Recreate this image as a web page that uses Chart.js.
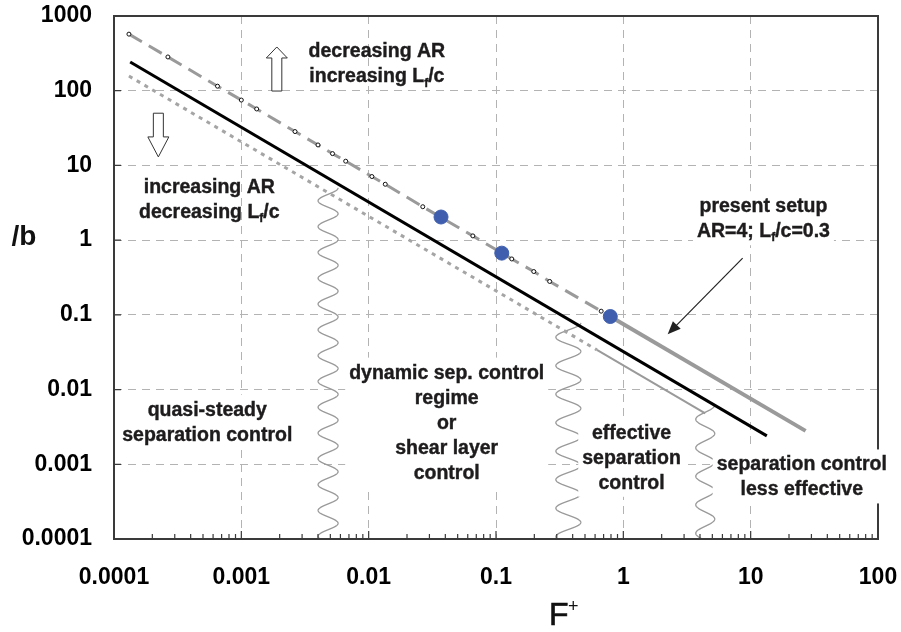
<!DOCTYPE html>
<html>
<head>
<meta charset="utf-8">
<script src="https://cdn.jsdelivr.net/npm/chart.js@4.4.0/dist/chart.umd.min.js"></script>
<style>
  html, body { margin: 0; padding: 0; background: #fff; }
  canvas { display: block; }
</style>
</head>
<body>
<canvas id="sepChart" width="901" height="632"></canvas>
<script>
// values
const xTickValues = [0.0001, 0.001, 0.01, 0.1, 1, 10, 100];
const xTickLabels = ['0.0001', '0.001', '0.01', '0.1', '1', '10', '100'];
const yTickValues = [0.0001, 0.001, 0.01, 0.1, 1, 10, 100, 1000];
const yTickLabels = ['0.0001', '0.001', '0.01', '0.1', '1', '10', '100', '1000'];

// upper dashed curve with its small markers
const dashedX = [0.000131, 0.000265, 0.00065, 0.001, 0.00132, 0.00264, 0.004, 0.0052, 0.0066, 0.0106, 0.0135, 0.0266, 0.0658, 0.133, 0.198, 0.264, 0.67, 0.79];
const dashedY = [572, 283, 115, 75, 57, 28.4, 18.8, 14.4, 11.4, 7.1, 5.6, 2.8, 1.14, 0.56, 0.38, 0.28, 0.112, 0.095];
// its solid continuation at higher F+
const upperX = [0.79, 27];
const upperY = [0.095, 0.0028];
// middle black line
const middleX = [0.000134, 13.4];
const middleY = [242, 0.0024];
// lower dotted curve and its solid end
const dottedX = [0.000131, 0.62];
const dottedY = [157, 0.034];
const lowerX = [0.62, 4.4];
const lowerY = [0.034, 0.0048];
// present setup points
const setupX = [0.037, 0.111, 0.79];
const setupY = [2.04, 0.67, 0.095];
// regime boundaries (wavy lines): F+ position and upper end
const boundaryX = [0.0048, 0.37, 4.4];
const boundaryTopY = [5.0, 0.078, 0.0062];

// annotations, anchored in data space
const notes = [
    { x: 0.0116, y: 330, lines: ['decreasing AR', 'increasing L{f}/c'], box: false },
    { x: 0.00056, y: 5.1, lines: ['increasing AR', 'decreasing L{f}/c'], box: false },
    { x: 12.6, y: 2.8, lines: ['present setup', 'AR=4; L{f}/c=0.3'], box: true },
    { x: 0.00054, y: 0.0053, lines: ['quasi-steady', 'separation control'], box: true },
    { x: 0.041, y: 0.0166, lines: ['dynamic sep. control', 'regime', 'or', 'shear layer', 'control'], box: true },
    { x: 1.16, y: 0.0026, lines: ['effective', 'separation', 'control'], box: true },
    { x: 25.2, y: 0.00098, lines: ['separation control', 'less effective'], box: true }
];
const blockArrows = [
    { x: 0.0019, from: 99, to: 385, head: 11 },
    { x: 0.000223, from: 50, to: 13, head: 20 }
];
const pointer = { fromX: 8.65, fromY: 0.575, toX: 2.23, toY: 0.055 };

const FONT = "'Liberation Sans', Arial, sans-serif";
const waveAmp = [10, 12.5, 9.5];
const wavePeriod = [25.8, 28.5, 28.5];

const pts = (xs, ys) => xs.map((x, i) => ({ x: x, y: ys[i] }));

function splitRich(line) {
    return line.split(/(\{[^}]*\})/).filter(Boolean).map(p =>
        p[0] === '{' ? { t: p.slice(1, -1), sub: true } : { t: p, sub: false });
}

function richWidth(ctx, line, size) {
    let w = 0;
    splitRich(line).forEach(p => {
        ctx.font = `bold ${p.sub ? Math.round(size * 0.62) : size}px ${FONT}`;
        w += ctx.measureText(p.t).width;
    });
    return w;
}

function drawRich(ctx, line, cx, cy, size) {
    let px = cx - richWidth(ctx, line, size) / 2;
    ctx.textAlign = 'left';
    ctx.textBaseline = 'middle';
    splitRich(line).forEach(p => {
        ctx.font = `bold ${p.sub ? Math.round(size * 0.62) : size}px ${FONT}`;
        const py = cy + (p.sub ? size * 0.32 : 0);
        ctx.fillText(p.t, px, py);
        ctx.strokeText(p.t, px, py);
        px += ctx.measureText(p.t).width;
    });
}

const decor = {
    id: 'decor',
    beforeDatasetsDraw(chart) {
        const { ctx, chartArea: a, scales: { x, y } } = chart;
        ctx.save();
        ctx.strokeStyle = '#9a9a9a';
        ctx.lineWidth = 1.3;
        boundaryX.forEach((bx, i) => {
            const cx = x.getPixelForValue(bx);
            const top = y.getPixelForValue(boundaryTopY[i]);
            ctx.beginPath();
            for (let py = top; py <= a.bottom; py += 0.5) {
                const px = cx + waveAmp[i] * Math.cos(2 * Math.PI * (py - top) / wavePeriod[i]);
                if (py === top) ctx.moveTo(px, py); else ctx.lineTo(px, py);
            }
            ctx.stroke();
        });
        ctx.restore();
    },
    afterDraw(chart) {
        const { ctx, chartArea: a, scales: { x, y } } = chart;
        ctx.save();

        // frame and inner tick marks
        ctx.strokeStyle = '#3a3a3a';
        ctx.lineWidth = 2;
        ctx.strokeRect(a.left, a.top, a.right - a.left, a.bottom - a.top);
        ctx.lineWidth = 1.2;
        ctx.beginPath();
        xTickValues.forEach((v, i) => {
            const px = x.getPixelForValue(v);
            ctx.moveTo(px, a.bottom); ctx.lineTo(px, a.bottom - 8);
            if (i < xTickValues.length - 1) {
                for (let k = 2; k <= 9; k++) {
                    const mx = x.getPixelForValue(v * k);
                    ctx.moveTo(mx, a.bottom); ctx.lineTo(mx, a.bottom - 5);
                }
            }
        });
        yTickValues.forEach(v => {
            const py = y.getPixelForValue(v);
            ctx.moveTo(a.left, py); ctx.lineTo(a.left + 7, py);
        });
        ctx.stroke();

        // hollow block arrows
        ctx.fillStyle = '#fff';
        ctx.strokeStyle = '#333';
        ctx.lineWidth = 1;
        blockArrows.forEach(b => {
            const cx = x.getPixelForValue(b.x);
            const y0 = y.getPixelForValue(b.from);
            const y1 = y.getPixelForValue(b.to);
            const dir = y1 < y0 ? -1 : 1;
            const yh = y1 - dir * b.head;
            ctx.beginPath();
            ctx.moveTo(cx - 5, y0);
            ctx.lineTo(cx - 5, yh);
            ctx.lineTo(cx - 10.5, yh);
            ctx.lineTo(cx, y1);
            ctx.lineTo(cx + 10.5, yh);
            ctx.lineTo(cx + 5, yh);
            ctx.lineTo(cx + 5, y0);
            ctx.closePath();
            ctx.fill();
            ctx.stroke();
        });

        // pointer to the present setup line
        const p0x = x.getPixelForValue(pointer.fromX), p0y = y.getPixelForValue(pointer.fromY);
        const p1x = x.getPixelForValue(pointer.toX), p1y = y.getPixelForValue(pointer.toY);
        const ang = Math.atan2(p1y - p0y, p1x - p0x);
        ctx.strokeStyle = '#222';
        ctx.fillStyle = '#222';
        ctx.lineWidth = 1.2;
        ctx.beginPath();
        ctx.moveTo(p0x, p0y);
        ctx.lineTo(p1x - 10 * Math.cos(ang), p1y - 10 * Math.sin(ang));
        ctx.stroke();
        ctx.beginPath();
        ctx.moveTo(p1x, p1y);
        ctx.lineTo(p1x - 13 * Math.cos(ang) + 5.5 * Math.sin(ang), p1y - 13 * Math.sin(ang) - 5.5 * Math.cos(ang));
        ctx.lineTo(p1x - 13 * Math.cos(ang) - 5.5 * Math.sin(ang), p1y - 13 * Math.sin(ang) + 5.5 * Math.cos(ang));
        ctx.closePath();
        ctx.fill();

        // text annotations
        const size = 19.5, lh = 25;
        notes.forEach(n => {
            const cx = x.getPixelForValue(n.x);
            const cy = y.getPixelForValue(n.y);
            if (n.box) {
                const w = Math.max(...n.lines.map(l => richWidth(ctx, l, size)));
                ctx.fillStyle = '#fff';
                ctx.fillRect(cx - w / 2 - 4, cy - lh / 2 - 3, w + 8, lh * n.lines.length + 4);
            }
            ctx.fillStyle = '#1e1c1d';
            ctx.strokeStyle = '#1e1c1d';
            ctx.lineWidth = 0.4;
            n.lines.forEach((l, i) => drawRich(ctx, l, cx, cy + i * lh, size));
        });

        // axis titles
        ctx.fillStyle = '#111';
        ctx.textBaseline = 'middle';
        ctx.textAlign = 'center';
        ctx.font = `bold 28px ${FONT}`;
        ctx.fillText('/b', 24, y.getPixelForValue(1) - 3);
        ctx.textAlign = 'left';
        ctx.font = `32px 'Liberation Sans Narrow', ${FONT}`;
        ctx.fillText('F', 549, 616);
        ctx.strokeStyle = '#111';
        ctx.lineWidth = 0.6;
        ctx.strokeText('F', 549, 616);
        ctx.font = `18px ${FONT}`;
        ctx.fillText('+', 568, 607);
        ctx.restore();
    }
};

new Chart(document.getElementById('sepChart'), {
    type: 'scatter',
    data: {
        datasets: [
            {
                data: pts(setupX, setupY),
                backgroundColor: '#3f5fae',
                borderColor: '#3f5fae',
                pointRadius: 7,
                showLine: false
            },
            {
                data: pts(dashedX, dashedY),
                showLine: true,
                borderColor: '#9a9a9a',
                borderWidth: 3,
                borderDash: [15, 8],
                pointRadius: 2,
                pointBorderWidth: 1,
                pointBorderColor: '#111',
                pointBackgroundColor: '#fff'
            },
            {
                data: pts(upperX, upperY),
                showLine: true,
                borderColor: '#9a9a9a',
                borderWidth: 4,
                pointRadius: 0
            },
            {
                data: pts(middleX, middleY),
                showLine: true,
                borderColor: '#000',
                borderWidth: 3,
                pointRadius: 0
            },
            {
                data: pts(dottedX, dottedY),
                showLine: true,
                borderColor: '#a5a5a5',
                borderWidth: 3,
                borderDash: [4, 5],
                pointRadius: 0
            },
            {
                data: pts(lowerX, lowerY),
                showLine: true,
                borderColor: '#9a9a9a',
                borderWidth: 2,
                pointRadius: 0
            }
        ]
    },
    options: {
        responsive: false,
        animation: false,
        layout: { padding: { left: 0, right: 23, top: 16, bottom: 0 } },
        plugins: { legend: { display: false }, tooltip: { enabled: false } },
        scales: {
            x: {
                type: 'logarithmic',
                min: 0.0001,
                max: 100,
                afterBuildTicks: s => { s.ticks = xTickValues.map(v => ({ value: v })); },
                afterFit: s => { s.height = 93; s.paddingLeft = 0; s.paddingRight = 0; },
                grid: { color: '#b3b3b3', lineWidth: 1, drawTicks: false },
                border: { display: false, dash: [8, 6] },
                ticks: {
                    autoSkip: false,
                    maxRotation: 0,
                    padding: 25,
                    color: '#000',
                    font: { family: FONT, size: 23, weight: 'bold' },
                    callback: (v, i) => xTickLabels[i]
                }
            },
            y: {
                type: 'logarithmic',
                min: 0.0001,
                max: 1000,
                afterBuildTicks: s => { s.ticks = yTickValues.map(v => ({ value: v })); },
                afterFit: s => { s.width = 114; s.paddingTop = 0; s.paddingBottom = 0; },
                grid: { color: '#b3b3b3', lineWidth: 1, drawTicks: false },
                border: { display: false, dash: [8, 6] },
                ticks: {
                    autoSkip: false,
                    padding: 22,
                    color: '#000',
                    font: { family: FONT, size: 23, weight: 'bold' },
                    callback: (v, i) => yTickLabels[i]
                }
            }
        }
    },
    plugins: [decor]
});
</script>
</body>
</html>
